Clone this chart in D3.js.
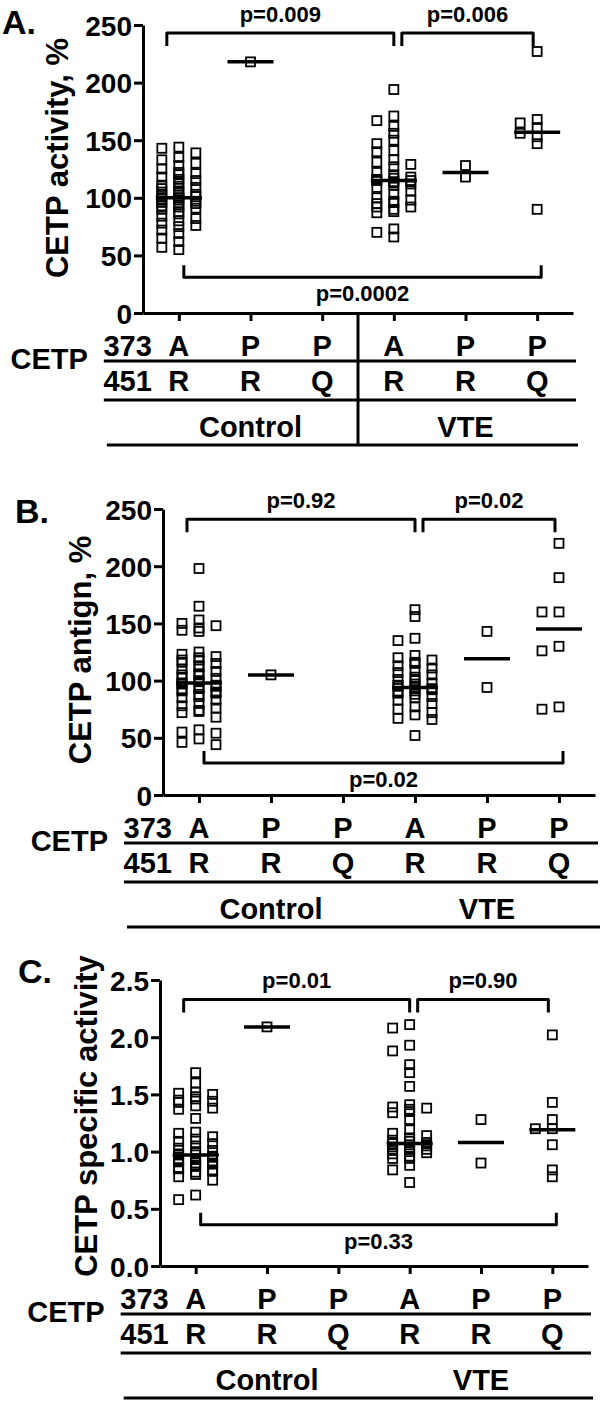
<!DOCTYPE html>
<html>
<head>
<meta charset="utf-8">
<script src="https://cdn.jsdelivr.net/npm/d3@7"></script>
<style>
  html, body { margin: 0; padding: 0; background: #fff; }
  svg { display: block; font-family: "Liberation Sans", Arial, sans-serif; font-weight: bold; }
</style>
</head>
<body>
<svg id="chart" width="600" height="1403"></svg>
<script>
// Genotype columns, left to right
const groupKeys = ["ctrl-AR", "ctrl-PR", "ctrl-PQ", "vte-AR", "vte-PR", "vte-PQ"];
const aa373 = ["A", "P", "P", "A", "P", "P"];
const aa451 = ["R", "R", "Q", "R", "R", "Q"];
const cohorts = ["Control", "VTE"];

// Panel A: CETP activity, %
const activityValues = [
  [144, 139, 143, 135, 133, 130, 128, 125, 122, 121, 120, 118, 116, 115, 113, 111, 110, 109, 108, 106,
   105, 104, 103, 102, 101, 100, 100, 99, 98, 97, 96, 95, 94, 93, 92, 91, 90, 88, 86, 84,
   82, 80, 78, 76, 75, 72, 69, 65, 62, 57, 55],
  [218],
  [],
  [194, 171, 167, 162, 156, 150, 147, 141, 140, 133, 131, 129, 127, 122, 120, 118, 117, 116, 115, 115,
   114, 113, 112, 111, 109, 106, 103, 100, 98, 97, 96, 95, 92, 92, 90, 88, 87, 73, 70, 66],
  [118, 128],
  [227, 168, 165, 161, 156, 153, 147, 90]
];
const activityCenters = [100, 218, null, 115, 122, 157];
const activityTicks = [0, 50, 100, 150, 200, 250];
const activityStats = [
  { from: 0, to: 3, level: 243, side: "top", label: "p=0.009" },
  { from: 3, to: 5, level: 243, side: "top", label: "p=0.006" },
  { from: 0, to: 5, level: 31, side: "bottom", label: "p=0.0002" }
];

// Panel B: CETP antigen, %
const antigenValues = [
  [198, 165, 153, 150, 148, 146, 144, 143, 125, 123, 121, 120, 118, 118, 116, 115, 113, 112, 110, 108,
   106, 105, 105, 103, 102, 100, 99, 98, 97, 96, 95, 94, 93, 92, 91, 90, 89, 88, 86, 85,
   83, 80, 78, 76, 74, 73, 72, 68, 57, 55, 54, 49, 46, 44],
  [105],
  [],
  [162, 156, 137, 135, 122, 120, 118, 116, 115, 113, 111, 109, 107, 105, 103, 101, 100, 98, 97, 96,
   95, 94, 93, 92, 91, 90, 89, 88, 86, 85, 83, 80, 77, 75, 72, 70, 67, 66, 52],
  [143, 94],
  [220, 190, 160, 160, 130, 126, 77, 75]
];
const antigenCenters = [98, 105, null, 94, 119, 145];
const antigenTicks = [0, 50, 100, 150, 200, 250];
const antigenStats = [
  { from: 0, to: 3, level: 241, side: "top", label: "p=0.92" },
  { from: 3, to: 5, level: 241, side: "top", label: "p=0.02" },
  { from: 0, to: 5, level: 28, side: "bottom", label: "p=0.02" }
];

// Panel C: CETP specific activity
const specificValues = [
  [1.69, 1.60, 1.52, 1.51, 1.50, 1.48, 1.46, 1.45, 1.44, 1.43, 1.40, 1.38, 1.37, 1.29, 1.17, 1.16, 1.13, 1.11,
   1.09, 1.07, 1.05, 1.03, 1.01, 1.00, 0.99, 0.98, 0.97, 0.96, 0.95, 0.94, 0.93, 0.92, 0.91, 0.90, 0.90,
   0.89, 0.88, 0.87, 0.86, 0.85, 0.84, 0.83, 0.82, 0.80, 0.78, 0.75, 0.62, 0.58],
  [2.09],
  [],
  [2.11, 2.08, 1.93, 1.88, 1.76, 1.69, 1.57, 1.41, 1.39, 1.38, 1.37, 1.35, 1.34, 1.28, 1.19, 1.16, 1.14,
   1.12, 1.10, 1.09, 1.08, 1.07, 1.06, 1.05, 1.04, 1.03, 1.02, 1.01, 1.00, 0.99, 0.98, 0.96, 0.94, 0.94,
   0.88, 0.84, 0.73],
  [1.28, 0.90],
  [2.02, 1.43, 1.28, 1.20, 1.20, 1.06, 0.84, 0.78]
];
const specificCenters = [0.97, 2.09, null, 1.07, 1.08, 1.19];
const specificTicks = [0, 0.5, 1.0, 1.5, 2.0, 2.5];
const specificStats = [
  { from: 0, to: 3, level: 2.33, side: "top", label: "p=0.01" },
  { from: 3, to: 5, level: 2.33, side: "top", label: "p=0.90" },
  { from: 0, to: 5, level: 0.36, side: "bottom", label: "p=0.33" }
];

const svg = d3.select("#chart");

const panels = [
  { tag: "A.", title: "CETP activity, %", values: activityValues, centers: activityCenters,
    ticks: activityTicks, fmt: d3.format("d"), max: 250, stats: activityStats,
    top: 25, bottom: 313, left: 143, right: 573, titleX: 57, titleY: 158, tagX: 2, tagY: 34, divider: true },
  { tag: "B.", title: "CETP antign, %", values: antigenValues, centers: antigenCenters,
    ticks: antigenTicks, fmt: d3.format("d"), max: 250, stats: antigenStats,
    top: 509, bottom: 795, left: 163, right: 595, titleX: 80, titleY: 650, tagX: 15, tagY: 523, divider: false },
  { tag: "C.", title: "CETP specific activity", values: specificValues, centers: specificCenters,
    ticks: specificTicks, fmt: d3.format(".1f"), max: 2.5, stats: specificStats,
    top: 980, bottom: 1266, left: 160, right: 588, titleX: 86, titleY: 1116, tagX: 18, tagY: 983, divider: false }
];

const BOX = 9;        // square marker side
const STEP = 8.5;     // horizontal spread step for overlapping points

// simple swarm: push points sideways only when they sit almost on top of each other
function swarm(vals, y) {
  const sorted = vals.map((v, i) => ({ v, i })).sort((a, b) => b.v - a.v);
  const placed = [];
  const offsets = [0, -2 * STEP, 2 * STEP, -STEP, STEP];
  sorted.forEach((p) => {
    const py = y(p.v);
    let best = 0, bestHits = Infinity;
    for (const dx of offsets) {
      const hits = placed.filter((q) => Math.abs(q.dx - dx) < BOX && Math.abs(q.y - py) < 6).length;
      if (hits < bestHits) { bestHits = hits; best = dx; }
      if (hits === 0) break;
    }
    placed.push({ v: p.v, y: py, dx: best });
  });
  return placed;
}

panels.forEach((P) => {
  const g = svg.append("g");
  const y = d3.scaleLinear().domain([0, P.max]).range([P.bottom, P.top]);
  const x = d3.scalePoint().domain(groupKeys).range([P.left, P.right]).padding(0.5);

  // panel tag
  g.append("text").attr("x", P.tagX).attr("y", P.tagY)
    .attr("font-size", 34).text(P.tag);

  // y title
  g.append("text")
    .attr("transform", `translate(${P.titleX},${P.titleY}) rotate(-90)`)
    .attr("text-anchor", "middle").attr("dominant-baseline", "central")
    .attr("font-size", 31).text(P.title);

  // axes
  const yAxis = g.append("g").attr("transform", `translate(${P.left},0)`)
    .call(d3.axisLeft(y).tickValues(P.ticks).tickFormat(P.fmt).tickSize(9).tickSizeOuter(0).tickPadding(2));
  const xAxis = g.append("g").attr("transform", `translate(0,${P.bottom})`)
    .call(d3.axisBottom(x).tickSize(8).tickSizeOuter(0).tickFormat(""));
  [yAxis, xAxis].forEach((a) => {
    a.select(".domain").attr("stroke", "#000").attr("stroke-width", 3);
    a.selectAll(".tick line").attr("stroke", "#000").attr("stroke-width", 3);
    a.selectAll(".tick text").attr("fill", "#000").attr("font-size", 28)
      .attr("font-weight", "bold").attr("font-family", "Liberation Sans, Arial, sans-serif");
  });
  yAxis.selectAll(".tick text").attr("dy", "0.36em");

  // data points
  P.values.forEach((vals, gi) => {
    const cx = x(groupKeys[gi]);
    const pts = swarm(vals, y);
    g.append("g").selectAll("rect").data(pts).join("rect")
      .attr("x", (d) => cx + d.dx - BOX / 2)
      .attr("y", (d) => d.y - BOX / 2)
      .attr("width", BOX).attr("height", BOX)
      .attr("fill", "none").attr("stroke", "#000").attr("stroke-width", 1.8);
  });

  // center lines
  g.append("g").selectAll("line")
    .data(P.centers.map((c, i) => ({ c, k: groupKeys[i] })).filter((d) => d.c != null))
    .join("line")
    .attr("x1", (d) => x(d.k) - 23).attr("x2", (d) => x(d.k) + 23)
    .attr("y1", (d) => y(d.c)).attr("y2", (d) => y(d.c))
    .attr("stroke", "#000").attr("stroke-width", 3.5);

  // significance brackets
  P.stats.forEach((s) => {
    const x0 = x(groupKeys[s.from]), x1 = x(groupKeys[s.to]);
    const ly = y(s.level);
    let a, b, legY, ty;
    if (s.side === "top") {
      a = s.from === 0 ? x0 - 12 : x0 + 8;
      b = s.from === 0 ? x1 : x1 - 4;
      legY = ly + 13;
      ty = ly - 11;
    } else {
      a = x0 + 5; b = x1 + 4;
      legY = ly - 12;
      ty = ly + 24;
    }
    g.append("path")
      .attr("d", `M${a},${legY}V${ly}H${b}V${legY}`)
      .attr("fill", "none").attr("stroke", "#000").attr("stroke-width", 3)
      .attr("stroke-linejoin", "round");
    g.append("text").attr("x", (a + b) / 2).attr("y", ty)
      .attr("text-anchor", "middle").attr("font-size", 22).text(s.label);
  });

  // genotype table below the axis
  const x0 = x(groupKeys[0]);
  const base = P.bottom;
  g.append("text").attr("x", x0 - 91).attr("y", base + 56)
    .attr("text-anchor", "end").attr("font-size", 29).text("CETP");
  g.append("text").attr("x", x0 - 27).attr("y", base + 43)
    .attr("text-anchor", "end").attr("font-size", 29).text("373");
  g.append("text").attr("x", x0 - 27).attr("y", base + 78)
    .attr("text-anchor", "end").attr("font-size", 29).text("451");
  g.append("g").selectAll("text").data(aa373).join("text")
    .attr("x", (d, i) => x(groupKeys[i])).attr("y", base + 43)
    .attr("text-anchor", "middle").attr("font-size", 29).text((d) => d);
  g.append("g").selectAll("text").data(aa451).join("text")
    .attr("x", (d, i) => x(groupKeys[i])).attr("y", base + 78)
    .attr("text-anchor", "middle").attr("font-size", 29).text((d) => d);
  g.append("g").selectAll("text").data(cohorts).join("text")
    .attr("x", (d, i) => (x(groupKeys[i * 3]) + x(groupKeys[i * 3 + 2])) / 2).attr("y", base + 124)
    .attr("text-anchor", "middle").attr("font-size", 29).text((d) => d);

  const rules = [
    { y: base + 48, from: x0 - 75, to: P.right + 3 },
    { y: base + 87, from: x0 - 75, to: P.right + 3 },
    { y: base + 132, from: x0 - 72, to: P.right + 5 }
  ];
  g.append("g").selectAll("line").data(rules).join("line")
    .attr("x1", (d) => d.from).attr("x2", (d) => d.to)
    .attr("y1", (d) => d.y).attr("y2", (d) => d.y)
    .attr("stroke", "#000").attr("stroke-width", 3);

  if (P.divider) {
    const dx = (x(groupKeys[2]) + x(groupKeys[3])) / 2;
    g.append("line").attr("x1", dx).attr("x2", dx)
      .attr("y1", base).attr("y2", base + 132)
      .attr("stroke", "#000").attr("stroke-width", 3);
  }
});
</script>
</body>
</html>
